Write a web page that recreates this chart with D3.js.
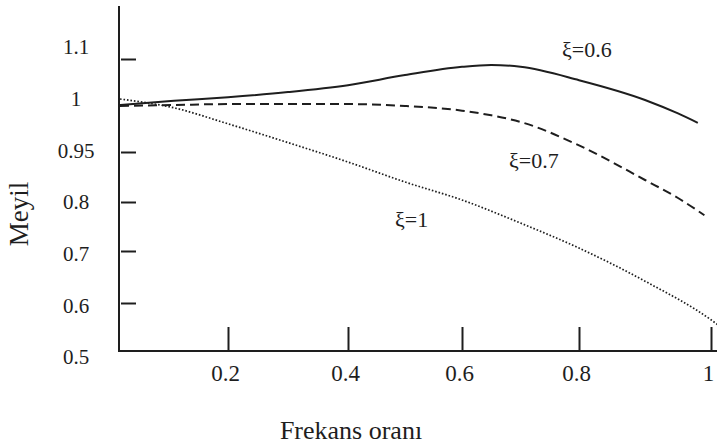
<!DOCTYPE html>
<html>
<head>
<meta charset="utf-8">
<script src="https://cdn.jsdelivr.net/npm/d3@7"></script>
<style>
  body { margin: 0; background: #fff; }
  svg { display: block; }
  svg text { font-family: "Liberation Serif", "DejaVu Serif", serif; }
</style>
</head>
<body>
<div id="chart"></div>
<script>
'use strict'

// tick values / labels as printed on the figure
const xTickVals = [0.2, 0.4, 0.6, 0.8, 1];
const yTickVals = [1.1, 0.95, 0.8, 0.7, 0.6];
const yLabels = ["1.1", "1", "0.95", "0.8", "0.7", "0.6", "0.5"];

// curves (frequency ratio -> Meyil)
const xi06X = [0, 0.1, 0.2, 0.3, 0.4, 0.5, 0.6, 0.65, 0.7, 0.8, 0.9, 0.95, 0.98];
const xi06Y = [1.0, 1.009, 1.017, 1.028, 1.043, 1.065, 1.083, 1.087, 1.083, 1.054, 1.011, 0.991, 0.981];

const xi07X = [0, 0.1, 0.2, 0.3, 0.4, 0.5, 0.6, 0.65, 0.7, 0.8, 0.9, 0.95, 0.99];
const xi07Y = [0.999, 1.0, 1.002, 1.002, 1.002, 0.999, 0.994, 0.989, 0.982, 0.957, 0.866, 0.812, 0.773];

const xi1X = [0, 0.1, 0.2, 0.3, 0.4, 0.5, 0.6, 0.7, 0.8, 0.9, 1.0, 1.01];
const xi1Y = [1.013, 0.997, 0.980, 0.960, 0.92, 0.86, 0.806, 0.757, 0.706, 0.642, 0.565, 0.555];

const width = 717, height = 446;
const ink = "#1e1e1e";
const serif = '"Liberation Serif", "Times New Roman", "DejaVu Serif", serif';

const svg = d3.select("#chart").append("svg")
    .attr("width", width)
    .attr("height", height);

// the printed axes are not evenly graduated, so use polylinear scales
const x = d3.scaleLinear()
    .domain([0, 0.2, 0.4, 0.6, 0.8, 1])
    .range([120, 228, 348, 462, 579, 711]);

const y = d3.scaleLinear()
    .domain([0.5, 0.6, 0.7, 0.8, 0.95, 1, 1.1])
    .range([351, 303, 251, 202, 152, 105, 59]);

const yLab = d3.scalePoint()
    .domain(yLabels)
    .range([47, 357]);

const axisY = y(0.5);

// x axis
const gx = svg.append('g')
    .attr('transform', `translate(0, ${axisY})`)
    .call(d3.axisBottom(x)
        .tickValues(xTickVals)
        .tickSize(-24)
        .tickFormat(d3.format("")))
    .attr('font-family', serif);
gx.select('.domain').remove();
gx.selectAll('line').attr('stroke', ink).attr('stroke-width', 2);
gx.selectAll('text')
    .attr('y', 30)
    .attr('dy', 0)
    .attr('dx', -3)
    .attr('fill', ink)
    .attr('font-family', serif)
    .style('font-size', '23px');

svg.append('line')
    .attr('x1', 118).attr('x2', width)
    .attr('y1', axisY).attr('y2', axisY)
    .attr('stroke', ink).attr('stroke-width', 2);

// y axis
const gy = svg.append('g')
    .attr('transform', `translate(${x(0) + 1}, 0)`)
    .call(d3.axisRight(y)
        .tickValues(yTickVals)
        .tickSize(15)
        .tickFormat(''));
gy.select('.domain').remove();
gy.selectAll('line').attr('stroke', ink).attr('stroke-width', 2);

svg.append('line')
    .attr('x1', x(0) - 1).attr('x2', x(0) - 1)
    .attr('y1', 6).attr('y2', axisY + 1)
    .attr('stroke', ink).attr('stroke-width', 2);

svg.append('g').selectAll('text')
    .data(yLabels)
    .enter()
    .append('text')
    .attr('x', 76)
    .attr('y', d => yLab(d))
    .attr('dy', '0.35em')
    .attr('text-anchor', 'middle')
    .attr('fill', ink)
    .attr('font-family', serif)
    .style('font-size', '21px')
    .text(d => d);

// axis titles
svg.append('text')
    .attr('x', 351)
    .attr('y', 439)
    .attr('text-anchor', 'middle')
    .attr('fill', ink)
    .attr('font-family', serif)
    .style('font-size', '26px')
    .text('Frekans oranı');

svg.append('text')
    .attr('transform', 'translate(28, 214) rotate(-90)')
    .attr('text-anchor', 'middle')
    .attr('fill', ink)
    .attr('font-family', serif)
    .style('font-size', '27px')
    .text('Meyil');

// curves
const line = d3.line()
    .x(d => x(d[0]))
    .y(d => y(d[1]))
    .curve(d3.curveMonotoneX);

const series = [
    { xs: xi06X, ys: xi06Y, dash: null, w: 2 },
    { xs: xi07X, ys: xi07Y, dash: '9,5', w: 2 },
    { xs: xi1X, ys: xi1Y, dash: '1.6,1.9', w: 1.7 }
];

svg.append('g').selectAll('path')
    .data(series)
    .enter()
    .append('path')
    .attr('d', s => line(d3.zip(s.xs, s.ys)))
    .attr('fill', 'none')
    .attr('stroke', ink)
    .attr('stroke-width', s => s.w)
    .attr('stroke-dasharray', s => s.dash);

// curve labels
const notes = [
    { t: 'ξ=0.6', px: 562, py: 57 },
    { t: 'ξ=0.7', px: 509, py: 168 },
    { t: 'ξ=1', px: 395, py: 227 }
];
svg.append('g').selectAll('text')
    .data(notes)
    .enter()
    .append('text')
    .attr('x', d => d.px)
    .attr('y', d => d.py)
    .attr('fill', ink)
    .attr('font-family', serif)
    .style('font-size', '22px')
    .text(d => d.t);
</script>
</body>
</html>
